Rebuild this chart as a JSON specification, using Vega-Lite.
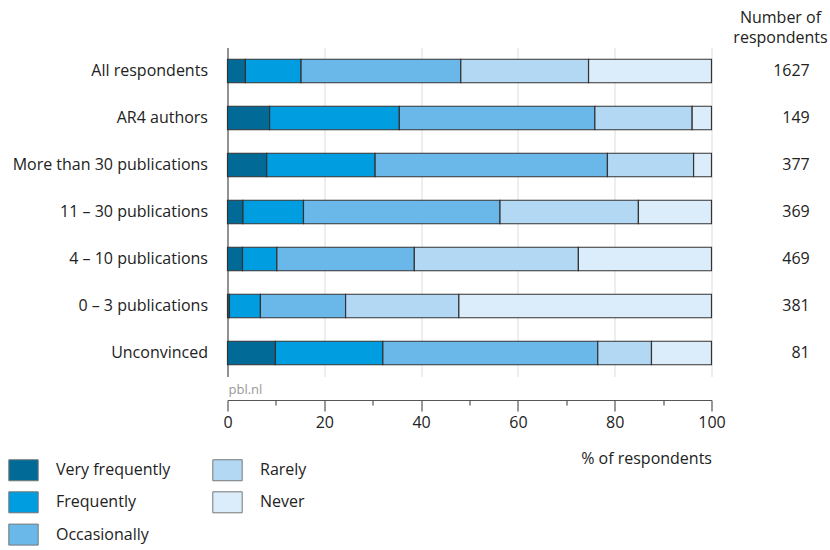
{
  "$schema": "https://vega.github.io/schema/vega-lite/v6.json",
  "width": 484,
  "height": 329,
  "autosize": {"type": "none"},
  "padding": {"left": 227.5, "top": 47.5, "right": 118.5, "bottom": 173.5},
  "background": "white",
  "config": {
    "font": "Open Sans",
    "view": {"stroke": null},
    "text": {"font": "Open Sans"}
  },
  "title": {
    "text": ["Number of", "respondents"],
    "anchor": "end",
    "frame": "group",
    "align": "center",
    "dx": 69,
    "offset": 1.5,
    "fontSize": 16,
    "fontWeight": "normal",
    "lineHeight": 20,
    "color": "#222",
    "font": "Open Sans"
  },
  "datasets": {
    "bars": [
      {"group": "All respondents", "category": "Very frequently", "order": 1, "value": 3.7},
      {"group": "All respondents", "category": "Frequently", "order": 2, "value": 11.5},
      {"group": "All respondents", "category": "Occasionally", "order": 3, "value": 33.0},
      {"group": "All respondents", "category": "Rarely", "order": 4, "value": 26.4},
      {"group": "All respondents", "category": "Never", "order": 5, "value": 25.4},
      {"group": "AR4 authors", "category": "Very frequently", "order": 1, "value": 8.7},
      {"group": "AR4 authors", "category": "Frequently", "order": 2, "value": 26.8},
      {"group": "AR4 authors", "category": "Occasionally", "order": 3, "value": 40.4},
      {"group": "AR4 authors", "category": "Rarely", "order": 4, "value": 20.1},
      {"group": "AR4 authors", "category": "Never", "order": 5, "value": 4.0},
      {"group": "More than 30 publications", "category": "Very frequently", "order": 1, "value": 8.1},
      {"group": "More than 30 publications", "category": "Frequently", "order": 2, "value": 22.4},
      {"group": "More than 30 publications", "category": "Occasionally", "order": 3, "value": 48.0},
      {"group": "More than 30 publications", "category": "Rarely", "order": 4, "value": 17.8},
      {"group": "More than 30 publications", "category": "Never", "order": 5, "value": 3.7},
      {"group": "11 – 30 publications", "category": "Very frequently", "order": 1, "value": 3.2},
      {"group": "11 – 30 publications", "category": "Frequently", "order": 2, "value": 12.5},
      {"group": "11 – 30 publications", "category": "Occasionally", "order": 3, "value": 40.6},
      {"group": "11 – 30 publications", "category": "Rarely", "order": 4, "value": 28.6},
      {"group": "11 – 30 publications", "category": "Never", "order": 5, "value": 15.1},
      {"group": "4 – 10 publications", "category": "Very frequently", "order": 1, "value": 3.1},
      {"group": "4 – 10 publications", "category": "Frequently", "order": 2, "value": 7.1},
      {"group": "4 – 10 publications", "category": "Occasionally", "order": 3, "value": 28.4},
      {"group": "4 – 10 publications", "category": "Rarely", "order": 4, "value": 33.9},
      {"group": "4 – 10 publications", "category": "Never", "order": 5, "value": 27.5},
      {"group": "0 – 3 publications", "category": "Very frequently", "order": 1, "value": 0.4},
      {"group": "0 – 3 publications", "category": "Frequently", "order": 2, "value": 6.4},
      {"group": "0 – 3 publications", "category": "Occasionally", "order": 3, "value": 17.6},
      {"group": "0 – 3 publications", "category": "Rarely", "order": 4, "value": 23.4},
      {"group": "0 – 3 publications", "category": "Never", "order": 5, "value": 52.2},
      {"group": "Unconvinced", "category": "Very frequently", "order": 1, "value": 9.9},
      {"group": "Unconvinced", "category": "Frequently", "order": 2, "value": 22.2},
      {"group": "Unconvinced", "category": "Occasionally", "order": 3, "value": 44.4},
      {"group": "Unconvinced", "category": "Rarely", "order": 4, "value": 11.1},
      {"group": "Unconvinced", "category": "Never", "order": 5, "value": 12.4}
    ],
    "counts": [
      {"group": "All respondents", "n": 1627},
      {"group": "AR4 authors", "n": 149},
      {"group": "More than 30 publications", "n": 377},
      {"group": "11 – 30 publications", "n": 369},
      {"group": "4 – 10 publications", "n": 469},
      {"group": "0 – 3 publications", "n": 381},
      {"group": "Unconvinced", "n": 81}
    ],
    "source": [
      {"group": "Unconvinced", "label": "pbl.nl"}
    ]
  },
  "resolve": {"axis": {"x": "independent"}},
  "layer": [
    {
      "data": {"name": "bars"},
      "mark": {"type": "bar", "stroke": "#333", "strokeWidth": 1.2},
      "encoding": {
        "y": {
          "field": "group",
          "type": "nominal",
          "sort": ["All respondents", "AR4 authors", "More than 30 publications", "11 – 30 publications", "4 – 10 publications", "0 – 3 publications", "Unconvinced"],
          "scale": {"paddingInner": 0.5, "paddingOuter": 0.25},
          "title": null,
          "axis": {
            "domainColor": "#555",
            "domainWidth": 1.2,
            "ticks": false,
            "grid": false,
            "labelFontSize": 16,
            "labelColor": "#222",
            "labelPadding": 20,
            "labelLimit": 300,
            "labelFont": "Open Sans"
          }
        },
        "x": {
          "field": "value",
          "type": "quantitative",
          "stack": "zero",
          "scale": {"domain": [0, 100], "nice": false},
          "axis": {
            "orient": "bottom",
            "values": [0, 20, 40, 60, 80, 100],
            "grid": true,
            "gridColor": "#e3e3e3",
            "gridWidth": 1.2,
            "offset": 23.5,
            "tickSize": 11,
            "tickColor": "#555",
            "tickWidth": 1.2,
            "domainColor": "#555",
            "domainWidth": 1.2,
            "labelFontSize": 16,
            "labelColor": "#222",
            "labelPadding": 3,
            "labelFlush": false,
            "labelFont": "Open Sans",
            "title": "% of respondents",
            "titleAnchor": "end",
            "titleFontWeight": "normal",
            "titleFontSize": 16,
            "titleColor": "#222",
            "titleFont": "Open Sans",
            "titlePadding": 20
          }
        },
        "color": {
          "field": "category",
          "type": "nominal",
          "scale": {
            "domain": ["Very frequently", "Frequently", "Occasionally", "Rarely", "Never"],
            "range": ["#016a97", "#009ee0", "#6ab8ea", "#b3d8f4", "#dbecfa"]
          },
          "legend": {
            "orient": "none",
            "legendX": -215,
            "legendY": 411.5,
            "columns": 2,
            "title": null,
            "padding": 0,
            "symbolType": "M-1.4,-1H1.4V1H-1.4Z",
            "symbolSize": 441,
            "symbolStrokeColor": "#777",
            "symbolStrokeWidth": 1,
            "symbolOpacity": 1,
            "labelFontSize": 16,
            "labelColor": "#222",
            "labelFont": "Open Sans",
            "labelOffset": 21.5,
            "columnPadding": 40,
            "rowPadding": 6.3
          }
        },
        "order": {"field": "order", "type": "quantitative"}
      }
    },
    {
      "data": {"name": "counts"},
      "mark": {"type": "text", "align": "right", "fontSize": 16, "color": "#222"},
      "encoding": {
        "y": {"field": "group", "type": "nominal", "sort": ["All respondents", "AR4 authors", "More than 30 publications", "11 – 30 publications", "4 – 10 publications", "0 – 3 publications", "Unconvinced"]},
        "x": {"datum": 120.3, "type": "quantitative", "axis": null},
        "text": {"field": "n", "type": "nominal"}
      }
    },
    {
      "data": {"name": "counts"},
      "mark": {"type": "text", "opacity": 0, "text": ""},
      "encoding": {
        "y": {"field": "group", "type": "nominal", "sort": ["All respondents", "AR4 authors", "More than 30 publications", "11 – 30 publications", "4 – 10 publications", "0 – 3 publications", "Unconvinced"]},
        "x": {
          "datum": 50,
          "type": "quantitative",
          "axis": {
            "orient": "bottom",
            "values": [10, 30, 50, 70, 90],
            "offset": 23.5,
            "tickSize": 5,
            "tickColor": "#555",
            "tickWidth": 1.2,
            "labels": false,
            "domain": false,
            "grid": false,
            "title": null
          }
        }
      }
    },
    {
      "data": {"name": "source"},
      "mark": {"type": "text", "align": "left", "dx": 1, "dy": 37, "fontSize": 13, "color": "#999"},
      "encoding": {
        "y": {"field": "group", "type": "nominal", "sort": ["All respondents", "AR4 authors", "More than 30 publications", "11 – 30 publications", "4 – 10 publications", "0 – 3 publications", "Unconvinced"]},
        "x": {"datum": 0, "type": "quantitative", "axis": null},
        "text": {"field": "label", "type": "nominal"}
      }
    }
  ]
}
